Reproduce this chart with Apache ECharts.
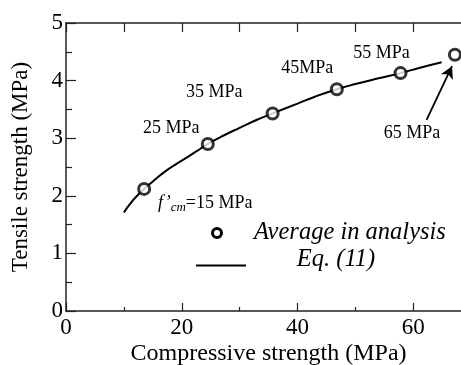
<!DOCTYPE html>
<html>
<head>
<meta charset="utf-8">
<script src="https://cdn.jsdelivr.net/npm/echarts@6/dist/echarts.min.js"></script>
<style>
html,body{margin:0;padding:0;background:#fff;overflow:hidden;width:461px;height:365px;}
#chart{width:529px;height:365px;}
</style>
</head>
<body>
<div id="chart"></div>
<script>
// Data
const pointX = [13.5, 24.5, 35.7, 46.8, 57.8, 67.2];
const pointY = [2.12, 2.90, 3.43, 3.85, 4.13, 4.45];
const curveX = [10, 11, 12, 13.5, 15, 17.5, 20, 22.5, 24.5, 27.5, 30, 33, 35.7, 40, 43, 46.8, 50, 54, 57.8, 61, 64.9];
const curveY = [1.71, 1.85, 1.97, 2.12, 2.25, 2.45, 2.61, 2.77, 2.90, 3.06, 3.18, 3.32, 3.43, 3.60, 3.72, 3.85, 3.94, 4.04, 4.13, 4.22, 4.32];
const annoText = ['25 MPa', '35 MPa', '45MPa', '55 MPa', '65 MPa'];
const annoX = [18.2, 25.6, 41.7, 54.5, 59.8];
const annoY = [3.18, 3.80, 4.22, 4.48, 3.09];
const arrowFrom = [62.3, 3.32];
const arrowTo = [66.7, 4.25];
const fcmLabelPos = [15.9, 1.87];
const legendNames = ['Average in analysis', 'Eq. (11)'];
const xTitle = 'Compressive strength (MPa)';
const yTitle = 'Tensile strength (MPa)';
const xTitleCenter = 35;

const FONT = 'Liberation Serif, Times New Roman, serif';
const chart = echarts.init(document.getElementById('chart'), null, {renderer: 'canvas', width: 529, height: 365});

const axisLine = {show: true, lineStyle: {color: '#222', width: 1.5}};
const tickRich = {t: {fontFamily: FONT, fontSize: 23, color: '#000'}};
const option = {
  animation: false,
  backgroundColor: '#fff',
  textStyle: {fontFamily: FONT, color: '#000'},
  grid: {left: 66, right: 0, top: 23, bottom: 54, containLabel: false, outerBoundsMode: 'none'},
  xAxis: [{
    type: 'value', min: 0, max: 80, interval: 20, position: 'bottom',
    axisLine: axisLine,
    axisTick: {show: true, inside: true, length: 8, lineStyle: {color: '#222', width: 1.2}},
    minorTick: {show: true, splitNumber: 2, length: 4, lineStyle: {color: '#222', width: 1.2}},
    splitLine: {show: false},
    axisLabel: {fontFamily: FONT, fontSize: 23, color: '#000', margin: 5, showMaxLabel: false,
      formatter: '{t|{value}}', rich: tickRich}
  }, {
    type: 'value', min: 0, max: 80, interval: 10, position: 'top',
    axisLine: axisLine,
    axisTick: {show: true, inside: true, length: 9, lineStyle: {color: '#222', width: 1.2}},
    splitLine: {show: false},
    axisLabel: {show: false}
  }],
  yAxis: [{
    type: 'value', min: 0, max: 5, interval: 1,
    axisLine: axisLine,
    axisTick: {show: true, inside: true, length: 10, lineStyle: {color: '#222', width: 1.2}},
    minorTick: {show: true, splitNumber: 2, length: 6, lineStyle: {color: '#222', width: 1.2}},
    splitLine: {show: false},
    axisLabel: {fontFamily: FONT, fontSize: 23, color: '#000', margin: 3,
      formatter: '{t|{value}}', rich: tickRich},
    name: yTitle, nameLocation: 'middle', nameGap: 34,
    nameTextStyle: {fontFamily: FONT, fontSize: 23, color: '#000'}
  }],
  series: [{
    type: 'line', name: legendNames[1],
    data: curveX.map((x, i) => [x, curveY[i]]),
    smooth: true, showSymbol: false, symbol: 'none',
    lineStyle: {color: '#000', width: 2},
    z: 2
  }, {
    type: 'scatter', name: legendNames[0],
    data: pointX.map((x, i) => [x, pointY[i]]),
    symbol: 'circle', symbolSize: 11,
    itemStyle: {color: '#fff', borderColor: '#000', borderWidth: 3},
    z: 3,
    markLine: {
      silent: true, animation: false,
      symbol: ['none', 'arrow'], symbolSize: [10, 12],
      label: {show: false},
      lineStyle: {color: '#000', width: 1.8, type: 'solid'},
      data: [[{coord: arrowFrom}, {coord: arrowTo}]]
    }
  }]
};
chart.setOption(option);

function px(p) { return chart.convertToPixel({xAxisIndex: 0, yAxisIndex: 0}, p); }
const g = [];
annoText.forEach((t, i) => {
  const p = px([annoX[i], annoY[i]]);
  g.push({type: 'text', x: p[0], y: p[1], z: 10,
    style: {text: t, fontFamily: FONT, fontSize: 18, fill: '#000', align: 'center', verticalAlign: 'middle'}});
});
const fp = px(fcmLabelPos);
g.push({type: 'text', x: fp[0], y: fp[1], z: 10,
  style: {
    text: "{i|f\u2019}{s|cm}{n|=15 MPa}",
    verticalAlign: 'middle', align: 'left',
    rich: {
      i: {fontFamily: FONT, fontStyle: 'italic', fontSize: 18, fill: '#000', color: '#000'},
      s: {fontFamily: FONT, fontStyle: 'italic', fontSize: 13, fill: '#000', color: '#000', verticalAlign: 'bottom', padding: [8, 0, 0, 0]},
      n: {fontFamily: FONT, fontSize: 18, fill: '#000', color: '#000'}
    }
  }});
// x axis title, centred on the visible 0-70 span of the original axis
const xt = px([xTitleCenter, 0]);
g.push({type: 'text', x: xt[0], y: xt[1] + 43, z: 10,
  style: {text: xTitle, fontFamily: FONT, fontSize: 24, fill: '#000', align: 'center', verticalAlign: 'middle'}});
// legend
g.push({type: 'circle', shape: {cx: 217, cy: 233, r: 4.5}, z: 10,
  style: {fill: '#fff', stroke: '#000', lineWidth: 3}});
g.push({type: 'line', shape: {x1: 196, y1: 265.5, x2: 246, y2: 265.5}, z: 10,
  style: {stroke: '#000', lineWidth: 2}});
g.push({type: 'text', x: 254, y: 233, z: 10,
  style: {text: legendNames[0], fontFamily: FONT, fontStyle: 'italic', fontSize: 24.5, fill: '#000', align: 'left', verticalAlign: 'middle'}});
g.push({type: 'text', x: 336, y: 260, z: 10,
  style: {text: legendNames[1], fontFamily: FONT, fontStyle: 'italic', fontSize: 24.5, fill: '#000', align: 'center', verticalAlign: 'middle'}});
chart.setOption({graphic: g});
</script>
</body>
</html>
